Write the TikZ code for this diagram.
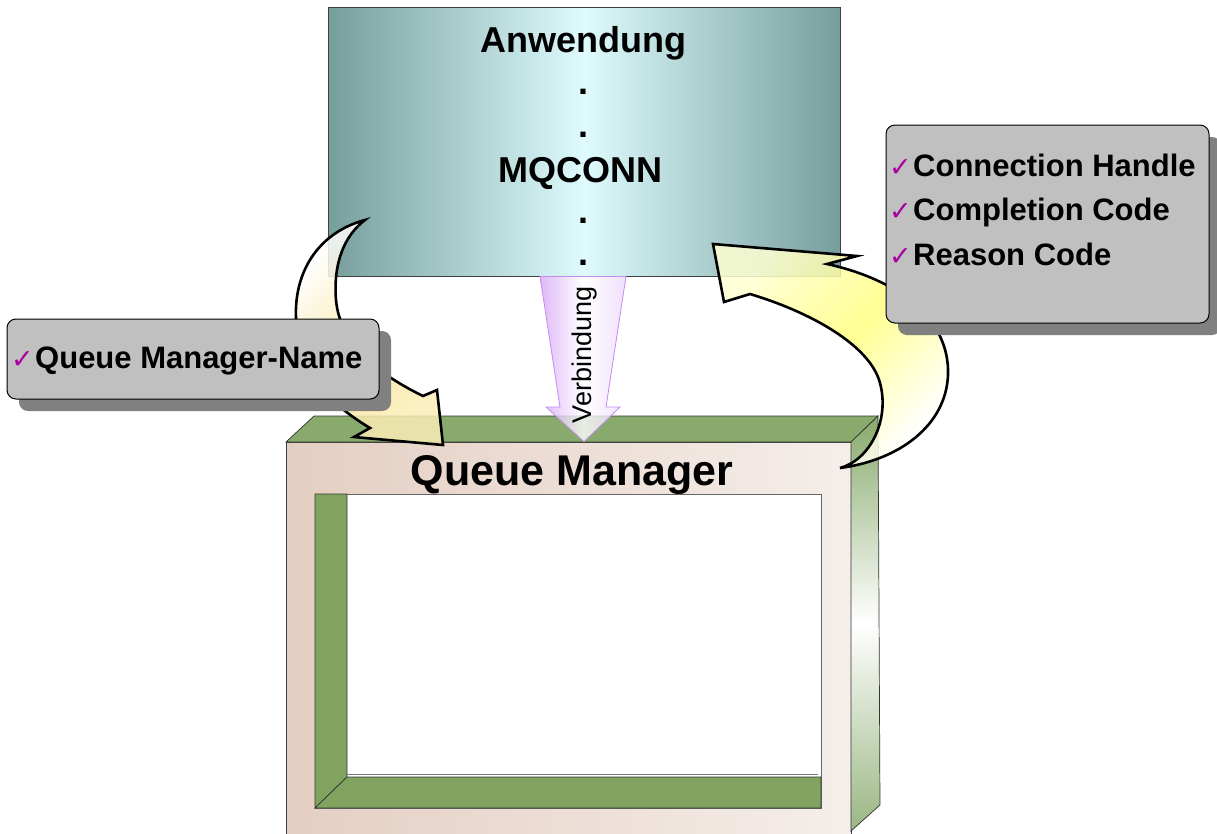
\documentclass[tikz,border=0pt]{standalone}
\usepackage{fontspec}
\setmainfont{Liberation Sans}
\newfontfamily\checkfont{DejaVu Sans}
\usetikzlibrary{shadows}

\definecolor{tealdark}{RGB}{118,158,156}
\definecolor{teallight}{RGB}{222,250,252}
\definecolor{qmbeige}{RGB}{228,206,194}
\definecolor{qmlight}{RGB}{245,238,234}
\definecolor{qmgreen}{RGB}{128,164,96}
\definecolor{qmgreentop}{RGB}{136,170,108}
\definecolor{boxgray}{RGB}{192,192,192}
\definecolor{shadowgray}{RGB}{128,128,128}
\definecolor{checkmag}{RGB}{170,0,160}
\definecolor{linkviolet}{RGB}{214,166,246}
\definecolor{linkborder}{RGB}{196,140,240}
\definecolor{bentyellow}{RGB}{255,255,128}
\definecolor{bentcream}{RGB}{250,232,165}

\newcommand{\chk}{\makebox[24pt][l]{\checkfont\mdseries\fontsize{27}{27}\selectfont\color{checkmag}✓}}

\tikzset{
  mqconn/.style={
    x=1pt, y=-1pt,
    every node/.style={inner sep=0pt, font=\bfseries},
    appbox/.style={
        draw=black!75,
        line width=0.8pt,
        left color=tealdark,
        right color=tealdark,
        middle color=teallight,
        minimum width=512pt,
        minimum height=269pt,
    },
    bigtext/.style={font=\fontsize{36}{40}\selectfont\bfseries},
    qmfront/.style={
        draw=black!75,
        line width=0.8pt,
        left color=qmbeige,
        right color=qmlight,
        minimum width=565pt,
        minimum height=396pt,
    },
    greenface/.style={fill=qmgreen, draw=black!80, line width=0.7pt},
    linkarrow/.style={
        draw=linkborder,
        line width=0.8pt,
        fill opacity=0.8,
        left color=linkviolet,
        right color=linkviolet!45!white,
        middle color=white,
    },
    bentarrow/.style={draw=black, line width=2.6pt, fill opacity=0.85},
    infobox/.style={
        draw=black,
        line width=1pt,
        rounded corners=9pt,
        fill=boxgray,
        drop shadow={shadow xshift=12pt, shadow yshift=-12pt, fill=shadowgray, opacity=1},
    },
    itemtext/.style={anchor=base west, font=\fontsize{31}{36}\selectfont\bfseries},
  }
}

\begin{document}
\begin{tikzpicture}[mqconn]
    \useasboundingbox (0,0) rectangle (1217,833);

    \node[appbox] (app) at (584,141.5) {};
    \node[bigtext, anchor=base] (anw) at (583,52) {Anwendung};
    \node[bigtext] (dot1) at (583,92) {.};
    \node[bigtext] (dot2) at (583,135) {.};
    \node[bigtext, anchor=base] (mqconn) at (580,182) {MQCONN};
    \node[bigtext] (dot3) at (583,221) {.};
    \node[bigtext] (dot4) at (583,263) {.};

    \node[qmfront] (qm) at (568.5,640) {};
    \draw[greenface, fill=qmgreentop] (286,442) -- (314,416) -- (878,416) -- (851,442) -- cycle;
    \draw[draw=black!80, line width=0.7pt, top color=qmgreentop, bottom color=qmgreentop!85!white, middle color=white]
        (851,442) -- (878,416) -- (880,805) -- (851,831) -- cycle;
    \draw[fill=white, draw=black!60, line width=0.8pt] (315,494) rectangle (821,808);
    \draw[greenface] (315,494) -- (347,494) -- (347,777) -- (315,808) -- cycle;
    \draw[greenface] (315,808) -- (347,777) -- (821,777) -- (821,808) -- cycle;
    \draw[black!55, line width=1pt] (347,774) -- (818,774);

    \draw[linkarrow] ([xshift=-44pt]app.south) -- ([xshift=42pt]app.south) -- (606,407) -- (620,407)
        -- (app.south |- qm.north) -- (546,407) -- (560,407) -- cycle;
    \node[rotate=90, font=\fontsize{27}{30}\selectfont] (verb) at (585,355) {Verbindung};

    \node[anchor=base, font=\fontsize{43}{48}\selectfont\bfseries] (qmtitle) at (572,485) {Queue Manager};

    \draw[bentarrow, left color=white, right color=bentcream!80!white, middle color=bentcream, shading angle=45]
        (365,220) .. controls (320,232) and (294,270) .. (296,318)
        .. controls (298,365) and (320,398) .. (370,428) -- (354,437) -- (443,445) -- (437,390) -- (423,396)
        .. controls (380,375) and (340,345) .. (336,300)
        .. controls (333,262) and (345,235) .. (365,220) -- cycle;
    \draw[bentarrow, left color=bentyellow!35!white, right color=white, middle color=bentyellow, shading angle=45]
        (713,244) -- (857,256) -- (827,264)
        .. controls (900,280) and (950,320) .. (948,375)
        .. controls (946,425) and (900,460) .. (840,468)
        .. controls (870,460) and (890,420) .. (880,383)
        .. controls (870,345) and (810,312) .. (750,294) -- (724,302) -- cycle;

    \node[infobox, minimum width=372pt, minimum height=80pt] (namebox) at (193,359) {};
    \node[itemtext] (qmname) at (11,368) {\chk Queue Manager-Name};

    \node[infobox, minimum width=323pt, minimum height=198pt] (retbox) at (1047.5,224) {};
    \node[itemtext] (hconn) at (889,176) {\chk Connection Handle};
    \node[itemtext] (compcode) at (889,220) {\chk Completion Code};
    \node[itemtext] (reason) at (889,265) {\chk Reason Code};
\end{tikzpicture}
\end{document}
